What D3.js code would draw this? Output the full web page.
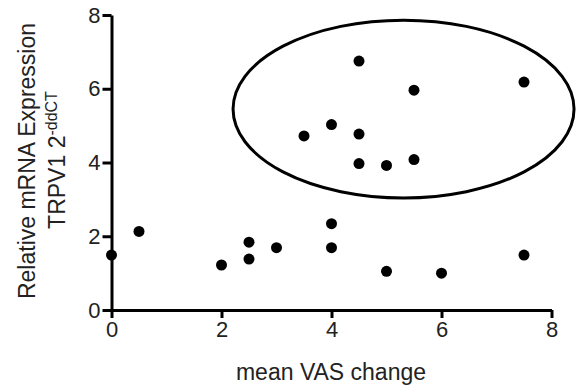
<!DOCTYPE html>
<html><head><meta charset="utf-8">
<script src="https://cdn.jsdelivr.net/npm/d3@7"></script>
<style>body{margin:0;background:#fff}svg{display:block}text{font-family:"Liberation Sans",Arial,sans-serif}</style>
</head><body><svg id="c" width="576" height="387"></svg>
<script>
const vasChange = [0, 0.5, 2, 2.5, 2.5, 3, 4, 4, 5, 6, 7.5, 3.5, 4, 4.5, 4.5, 4.5, 5, 5.5, 5.5, 7.5];
const expression = [1.49, 2.13, 1.22, 1.84, 1.38, 1.69, 2.34, 1.69, 1.05, 1.0, 1.49, 4.72, 5.03, 6.75, 4.77, 3.97, 3.92, 4.08, 5.96, 6.18];
const xTicks = [0, 2, 4, 6, 8];
const yTicks = [0, 2, 4, 6, 8];
const ellipseCenter = [5.31, 5.45];
const ellipseRadii = [3.1, 2.41];

const svg = d3.select("#c");
const x = d3.scaleLinear().domain([0, 8]).range([111.5, 551.5]);
const y = d3.scaleLinear().domain([0, 8]).range([310, 15]);

const xAxis = svg.append("g").attr("transform", "translate(0,310)")
  .call(d3.axisBottom(x).tickValues(xTicks).tickSize(8).tickSizeOuter(0).tickPadding(3));
const yAxis = svg.append("g").attr("transform", "translate(111.5,0)")
  .call(d3.axisLeft(y).tickValues(yTicks).tickSize(9).tickSizeOuter(0).tickPadding(2));
[xAxis, yAxis].forEach(g => {
  g.selectAll("path.domain").attr("stroke", "#000").attr("stroke-width", 3);
  g.selectAll(".tick line").attr("stroke", "#000").attr("stroke-width", 3);
  g.selectAll(".tick text").attr("fill", "#222").style("font-size", "22px").style("font-family", "Liberation Sans, Arial, sans-serif");
});

svg.append("ellipse")
  .attr("cx", x(ellipseCenter[0])).attr("cy", y(ellipseCenter[1]))
  .attr("rx", x(ellipseRadii[0]) - x(0)).attr("ry", y(0) - y(ellipseRadii[1]))
  .attr("fill", "none").attr("stroke", "#000").attr("stroke-width", 3);

svg.append("g").selectAll("circle").data(vasChange.map((v, i) => [v, expression[i]]))
  .join("circle").attr("cx", d => x(d[0])).attr("cy", d => y(d[1])).attr("r", 5.5).attr("fill", "#000");

svg.append("text").attr("x", 331).attr("y", 380).attr("text-anchor", "middle")
  .style("font-size", "23px").attr("fill", "#222").text("mean VAS change");

svg.append("text").attr("transform", "translate(35,161) rotate(-90)").attr("text-anchor", "middle")
  .style("font-size", "23px").attr("fill", "#222").text("Relative mRNA Expression");
const t2 = svg.append("text").attr("transform", "translate(65,160) rotate(-90)").attr("text-anchor", "middle")
  .style("font-size", "23px").attr("fill", "#222");
t2.append("tspan").text("TRPV1 2");
t2.append("tspan").attr("dy", -8).style("font-size", "16px").text("-ddCT");
</script></body></html>
